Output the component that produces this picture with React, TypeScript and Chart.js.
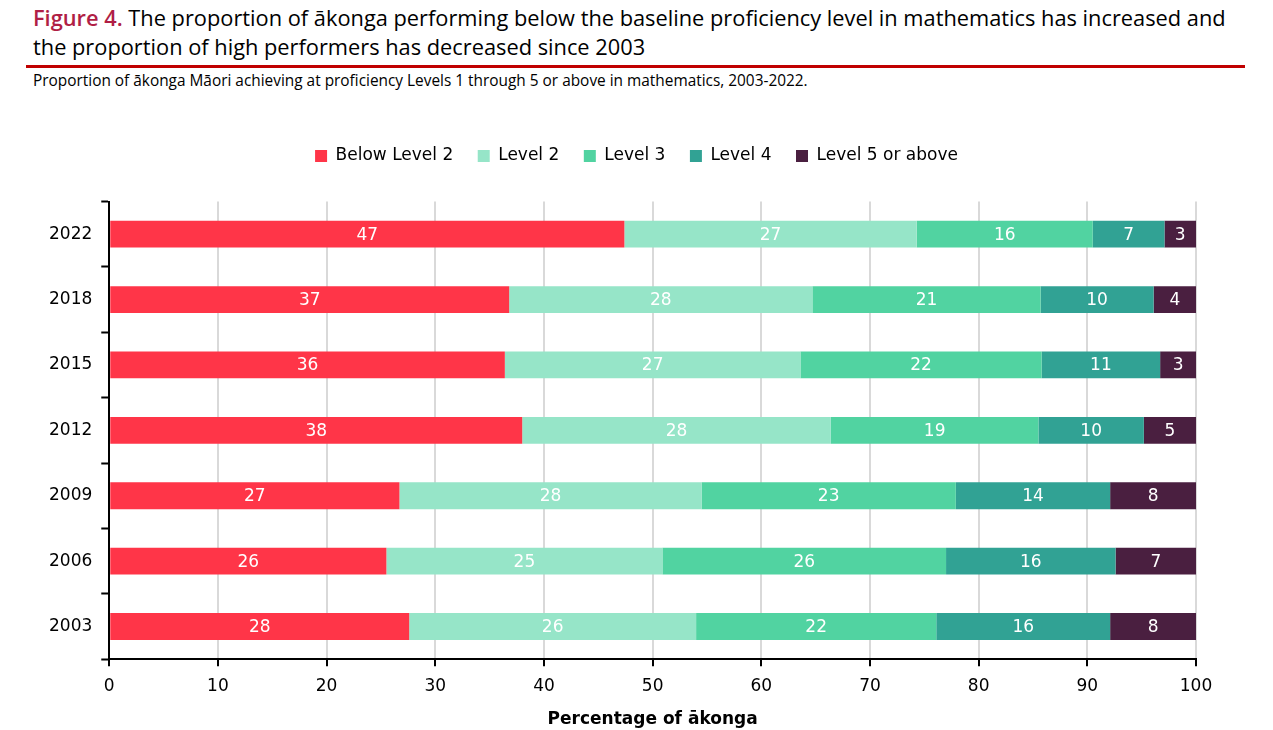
import React, { useEffect, useRef } from "react";
import { Chart, registerables } from "chart.js";

Chart.register(...registerables);

const years = ["2022", "2018", "2015", "2012", "2009", "2006", "2003"];
const seriesNames = ["Below Level 2", "Level 2", "Level 3", "Level 4", "Level 5 or above"];
const belowLevel2 = [47.4, 36.8, 36.4, 38.0, 26.7, 25.5, 27.6];
const level2 = [26.9, 27.9, 27.2, 28.4, 27.8, 25.4, 26.4];
const level3 = [16.2, 21.0, 22.2, 19.1, 23.4, 26.1, 22.1];
const level4 = [6.6, 10.4, 10.9, 9.7, 14.2, 15.6, 16.0];
const level5 = [2.9, 3.9, 3.3, 4.8, 7.9, 7.4, 7.9];
const xTicks = [0, 10, 20, 30, 40, 50, 60, 70, 80, 90, 100];
const colors = ["#FF3548", "#96E5C8", "#51D3A1", "#31A294", "#4A1F40"];

const CHART_FONT = "'DejaVu Sans', Verdana, sans-serif";

const dataLabelPlugin = {
  id: "segmentLabels",
  afterDatasetsDraw(chart: any) {
    const ctx = chart.ctx;
    ctx.save();
    ctx.font = `17px ${CHART_FONT}`;
    ctx.fillStyle = "#ffffff";
    ctx.textAlign = "center";
    ctx.textBaseline = "middle";
    chart.data.datasets.forEach((ds: any, di: number) => {
      const meta = chart.getDatasetMeta(di);
      meta.data.forEach((bar: any, i: number) => {
        const v = ds.data[i];
        const p = bar.getProps(["x", "y", "base"], true);
        const cx = (p.x + p.base) / 2;
        ctx.fillText(String(Math.round(v)), cx, p.y + 1);
      });
    });
    ctx.restore();
  },
};

const legendPlacePlugin = {
  id: "legendPlace",
  beforeInit(chart: any) {
    const legend = chart.legend;
    if (!legend) return;
    const origFit = legend.fit;
    legend.fit = function () {
      origFit.call(this);
      this.height += 27;
    };
  },
  afterLayout(chart: any) {
    const legend = chart.legend;
    if (!legend) return;
    legend.left = 3;
    legend.right = 1270;
  },
};

function ChartCanvas() {
  const ref = useRef<HTMLCanvasElement | null>(null);
  useEffect(() => {
    if (!ref.current) return;
    const series = [belowLevel2, level2, level3, level4, level5];
    const chart = new Chart(ref.current, {
      type: "bar",
      data: {
        labels: years,
        datasets: series.map((d, i) => ({
          label: seriesNames[i],
          data: d,
          backgroundColor: colors[i],
          borderWidth: 0,
          barPercentage: 0.41,
          categoryPercentage: 1,
        })),
      },
      options: {
        indexAxis: "y",
        responsive: false,
        animation: false,
        layout: { padding: { top: 23, left: 40, right: 77, bottom: 0 } },
        plugins: {
          legend: {
            position: "top",
            align: "center",
            labels: {
              boxWidth: 12,
              boxHeight: 12,
              padding: 24.5,
              color: "#000",
              font: { family: CHART_FONT, size: 17 },
            },
          },
          tooltip: { enabled: false },
        },
        scales: {
          x: {
            stacked: true,
            min: 0,
            max: 100,
            afterBuildTicks(axis: any) {
              axis.ticks = xTicks.map((v) => ({ value: v }));
            },
            grid: {
              color: "#d9d9d9",
              lineWidth: 2,
              tickColor: "#000",
              tickLength: 7,
              tickWidth: 2,
            },
            border: { color: "#000", width: 2 },
            ticks: {
              color: "#000",
              padding: 10,
              font: { family: CHART_FONT, size: 17 },
            },
            title: {
              display: true,
              text: "Percentage of ākonga",
              color: "#000",
              font: { family: CHART_FONT, size: 17, weight: "bold" },
              padding: { top: 3, bottom: 0 },
            },
          },
          y: {
            stacked: true,
            offset: true,
            grid: {
              offset: true,
              drawOnChartArea: false,
              color: "#000",
              tickLength: 8,
              tickWidth: 2,
            },
            border: { color: "#000", width: 2 },
            ticks: {
              color: "#000",
              padding: 9,
              font: { family: CHART_FONT, size: 17 },
            },
          },
        },
      },
      plugins: [dataLabelPlugin, legendPlacePlugin],
    } as any);
    return () => chart.destroy();
  }, []);
  return (
    <canvas
      ref={ref}
      width={1273}
      height={630}
      style={{ position: "absolute", left: 0, top: 100, width: 1273, height: 630 }}
    />
  );
}

export default function App() {
  return (
    <div
      style={{
        position: "fixed",
        left: 0,
        top: 0,
        width: 1273,
        height: 730,
        background: "#fff",
        overflow: "hidden",
      }}
    >
      <div
        style={{
          position: "absolute",
          left: 33,
          top: 3,
          width: 1240,
          fontFamily: "'Open Sans', sans-serif",
          fontSize: 21.8,
          lineHeight: "29px",
          color: "#000",
          whiteSpace: "nowrap",
        }}
      >
        <span style={{ color: "#B01E45", fontWeight: 600 }}>Figure 4.</span> The proportion of
        ākonga performing below the baseline proficiency level in mathematics has increased and
        <br />
        the proportion of high performers has decreased since 2003
      </div>
      <div
        style={{
          position: "absolute",
          left: 26,
          top: 65,
          width: 1219,
          height: 3,
          background: "#C00000",
        }}
      />
      <div
        style={{
          position: "absolute",
          left: 33,
          top: 70,
          fontFamily: "'Open Sans', sans-serif",
          fontSize: 15.4,
          fontWeight: 400,
          color: "#000",
          whiteSpace: "nowrap",
        }}
      >
        Proportion of ākonga Māori achieving at proficiency Levels 1 through 5 or above in
        mathematics, 2003-2022.
      </div>
      <ChartCanvas />
    </div>
  );
}
